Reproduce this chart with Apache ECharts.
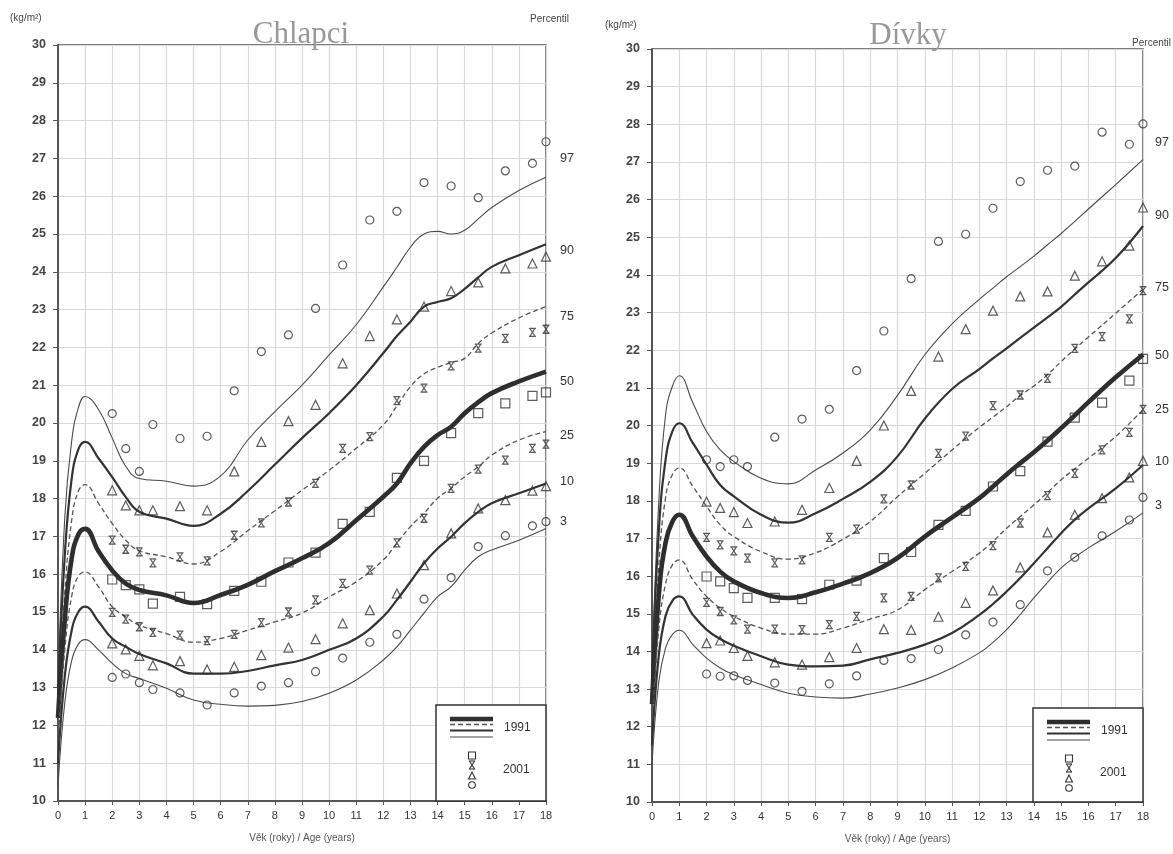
<!DOCTYPE html>
<html><head><meta charset="utf-8">
<script src="https://cdn.jsdelivr.net/npm/echarts/dist/echarts.min.js"></script>
<style>html,body{margin:0;padding:0;background:#fff}#c{width:1173px;height:854px}</style>
</head><body><div id="c"></div>
<script>
// ---- data (BMI percentiles, kg/m2) ----
const ages = [0, 0.25, 0.5, 0.75, 1, 1.5, 2, 2.5, 3, 4, 5, 6, 7, 8, 9, 10, 11, 12, 12.5, 13, 13.5, 14, 14.5, 15, 15.5, 16, 17, 18];
const percentiles = ['97', '90', '75', '50', '25', '10', '3'];

// boys 1991 reference curves
const boys97 = [13.0, 17.5, 19.5, 20.4, 20.7, 20.35, 19.6, 18.85, 18.53, 18.46, 18.33, 18.6, 19.55, 20.3, 21.0, 21.8, 22.6, 23.6, 24.12, 24.65, 25.0, 25.07, 25.0, 25.1, 25.4, 25.7, 26.15, 26.5];
const boys90 = [12.8, 16.5, 18.5, 19.3, 19.5, 19.06, 18.57, 18.04, 17.65, 17.47, 17.28, 17.6, 18.2, 18.9, 19.6, 20.26, 21.0, 21.85, 22.3, 22.68, 23.08, 23.2, 23.3, 23.55, 23.85, 24.13, 24.44, 24.73];
const boys75 = [12.5, 15.5, 17.4, 18.2, 18.37, 17.87, 17.34, 16.9, 16.62, 16.46, 16.27, 16.6, 17.15, 17.68, 18.22, 18.75, 19.33, 19.95, 20.45, 20.96, 21.3, 21.47, 21.6, 21.71, 22.1, 22.38, 22.78, 23.08];
const boys50 = [12.2, 14.8, 16.4, 17.05, 17.2, 16.6, 16.1, 15.75, 15.58, 15.44, 15.24, 15.45, 15.72, 16.08, 16.42, 16.82, 17.43, 18.05, 18.4, 18.93, 19.37, 19.68, 19.9, 20.26, 20.55, 20.79, 21.1, 21.36];
const boys25 = [11.6, 14.0, 15.4, 15.95, 16.06, 15.66, 15.14, 14.87, 14.65, 14.43, 14.2, 14.3, 14.52, 14.74, 14.97, 15.4, 15.8, 16.38, 16.82, 17.26, 17.61, 18.01, 18.27, 18.58, 18.84, 19.15, 19.55, 19.77];
const boys10 = [11.0, 13.3, 14.5, 15.0, 15.14, 14.74, 14.3, 14.08, 13.89, 13.64, 13.37, 13.37, 13.44, 13.59, 13.73, 14.0, 14.3, 14.88, 15.32, 15.8, 16.29, 16.68, 16.99, 17.35, 17.65, 17.88, 18.14, 18.4];
const boys3  = [10.4, 12.6, 13.7, 14.15, 14.27, 13.99, 13.64, 13.37, 13.24, 12.98, 12.67, 12.56, 12.51, 12.53, 12.63, 12.85, 13.2, 13.73, 14.08, 14.52, 14.97, 15.4, 15.67, 16.11, 16.46, 16.64, 16.9, 17.21];

// girls 1991 reference curves
const girls97 = [13.4, 18.0, 20.3, 21.05, 21.32, 20.6, 19.84, 19.35, 19.04, 18.6, 18.45, 18.82, 19.27, 19.88, 20.8, 21.88, 22.7, 23.35, 23.65, 23.95, 24.22, 24.5, 24.8, 25.1, 25.42, 25.75, 26.4, 27.06];
const girls90 = [13.2, 17.2, 19.1, 19.85, 20.06, 19.53, 18.96, 18.42, 18.12, 17.63, 17.42, 17.67, 18.05, 18.5, 19.18, 20.18, 20.97, 21.5, 21.78, 22.05, 22.33, 22.6, 22.87, 23.15, 23.48, 23.8, 24.45, 25.3];
const girls75 = [12.9, 16.3, 18.1, 18.7, 18.87, 18.38, 17.85, 17.36, 17.05, 16.65, 16.45, 16.62, 16.98, 17.45, 18.11, 18.73, 19.35, 19.95, 20.22, 20.5, 20.8, 21.05, 21.35, 21.7, 22.03, 22.35, 22.98, 23.62];
const girls50 = [12.6, 15.5, 16.9, 17.45, 17.63, 17.05, 16.52, 16.12, 15.86, 15.55, 15.42, 15.57, 15.8, 16.08, 16.48, 17.05, 17.56, 18.07, 18.38, 18.7, 19.0, 19.29, 19.6, 19.93, 20.27, 20.62, 21.28, 21.88];
const girls25 = [12.0, 14.6, 15.8, 16.3, 16.43, 15.9, 15.46, 15.15, 14.93, 14.62, 14.46, 14.46, 14.62, 14.86, 15.1, 15.64, 16.12, 16.61, 16.92, 17.27, 17.58, 17.89, 18.22, 18.56, 18.85, 19.13, 19.71, 20.42];
const girls10 = [11.5, 13.9, 14.95, 15.35, 15.46, 14.97, 14.58, 14.33, 14.15, 13.87, 13.65, 13.6, 13.62, 13.79, 13.96, 14.18, 14.49, 14.97, 15.26, 15.59, 15.95, 16.34, 16.74, 17.14, 17.5, 17.8, 18.33, 18.95];
const girls3  = [11.0, 13.2, 14.1, 14.45, 14.56, 14.18, 13.82, 13.56, 13.38, 13.12, 12.89, 12.79, 12.76, 12.87, 13.03, 13.25, 13.56, 13.96, 14.24, 14.58, 14.98, 15.42, 15.83, 16.22, 16.5, 16.75, 17.19, 17.68];

// 2001 survey points
const mAges = [2, 2.5, 3, 3.5, 4.5, 5.5, 6.5, 7.5, 8.5, 9.5, 10.5, 11.5, 12.5, 13.5, 14.5, 15.5, 16.5, 17.5, 18];
const boys01_97 = [20.25, 19.32, 18.72, 19.96, 19.59, 19.65, 20.85, 21.89, 22.33, 23.03, 24.18, 25.37, 25.6, 26.36, 26.27, 25.96, 26.67, 26.87, 27.44];
const boys01_90 = [18.22, 17.82, 17.69, 17.69, 17.8, 17.69, 18.72, 19.5, 20.05, 20.48, 21.58, 22.3, 22.74, 23.08, 23.49, 23.72, 24.09, 24.22, 24.4];
const boys01_75 = [16.9, 16.66, 16.59, 16.3, 16.46, 16.35, 17.03, 17.36, 17.91, 18.4, 19.33, 19.64, 20.59, 20.92, 21.51, 21.98, 22.24, 22.4, 22.48];
const boys01_50 = [15.86, 15.71, 15.6, 15.22, 15.4, 15.21, 15.56, 15.8, 16.31, 16.57, 17.33, 17.65, 18.55, 19.0, 19.73, 20.26, 20.52, 20.72, 20.81];
const boys01_25 = [14.99, 14.81, 14.61, 14.46, 14.39, 14.24, 14.41, 14.72, 15.0, 15.32, 15.76, 16.11, 16.83, 17.48, 18.27, 18.78, 19.02, 19.33, 19.44];
const boys01_10 = [14.17, 14.01, 13.84, 13.59, 13.7, 13.48, 13.55, 13.86, 14.06, 14.28, 14.7, 15.05, 15.49, 16.24, 17.08, 17.74, 17.96, 18.21, 18.33];
const boys01_3  = [13.27, 13.36, 13.13, 12.95, 12.86, 12.54, 12.86, 13.04, 13.13, 13.42, 13.78, 14.2, 14.41, 15.34, 15.91, 16.73, 17.02, 17.28, 17.39];

const girls01_97 = [19.09, 18.91, 19.09, 18.91, 19.69, 20.17, 20.43, 21.46, 22.51, 23.9, 24.89, 25.08, 25.77, 26.48, 26.78, 26.89, 27.79, 27.47, 28.01];
const girls01_90 = [17.98, 17.81, 17.7, 17.41, 17.45, 17.76, 18.34, 19.06, 20.0, 20.92, 21.83, 22.56, 23.05, 23.43, 23.56, 23.98, 24.36, 24.78, 25.79];
const girls01_75 = [17.03, 16.83, 16.67, 16.48, 16.35, 16.43, 17.03, 17.25, 18.05, 18.42, 19.26, 19.72, 20.53, 20.81, 21.25, 22.05, 22.36, 22.83, 23.58];
const girls01_50 = [15.99, 15.86, 15.68, 15.42, 15.42, 15.39, 15.77, 15.88, 16.48, 16.64, 17.36, 17.73, 18.38, 18.79, 19.57, 20.21, 20.61, 21.19, 21.77];
const girls01_25 = [15.3, 15.06, 14.84, 14.59, 14.59, 14.58, 14.71, 14.93, 15.42, 15.46, 15.95, 16.26, 16.81, 17.41, 18.14, 18.73, 19.35, 19.82, 20.43];
const girls01_10 = [14.22, 14.29, 14.09, 13.88, 13.71, 13.65, 13.85, 14.09, 14.59, 14.57, 14.92, 15.29, 15.62, 16.23, 17.16, 17.63, 18.07, 18.62, 19.06];
const girls01_3  = [13.4, 13.34, 13.35, 13.23, 13.16, 12.94, 13.14, 13.35, 13.76, 13.81, 14.05, 14.44, 14.78, 15.24, 16.14, 16.5, 17.07, 17.49, 18.09];

const titles = ['Chlapci', 'Dívky'];
const legendYears = ['1991', '2001'];
const xName = 'Věk (roky) / Age (years)';

// ---- styles ----
const FONT = '"Liberation Sans", Arial, sans-serif';
const INK = '#333';
const lineStyles = {
  thin:   { color: '#4a4a4a', width: 1.1 },
  medium: { color: '#333', width: 2.2 },
  dashed: { color: '#555', width: 1.3, type: [5, 3] },
  thick:  { color: '#2e2e2e', width: 4.6 }
};
const styleOf = ['thin', 'medium', 'dashed', 'thick', 'dashed', 'medium', 'thin'];
const XPATH = 'path://M0,0L8,0M0,10L8,10M1,0L7,10M7,0L1,10';
const symOf = [
  { symbol: 'circle', size: 8 },
  { symbol: 'triangle', size: 9 },
  { symbol: XPATH, size: [7, 8] },
  { symbol: 'rect', size: 9 },
  { symbol: XPATH, size: [7, 8] },
  { symbol: 'triangle', size: 9 },
  { symbol: 'circle', size: 8 }
];

const curves = [
  [boys97, boys90, boys75, boys50, boys25, boys10, boys3],
  [girls97, girls90, girls75, girls50, girls25, girls10, girls3]
];
const points = [
  [boys01_97, boys01_90, boys01_75, boys01_50, boys01_25, boys01_10, boys01_3],
  [girls01_97, girls01_90, girls01_75, girls01_50, girls01_25, girls01_10, girls01_3]
];
const labelDy = [
  [-19, 6, 10, 10, 4, -2, -7],
  [-17, -10, -2, 1, 0, -3, -7]
];
const labelDx = [6, 4];

const series = [];
for (let g = 0; g < 2; g++) {
  for (let p = 0; p < 7; p++) {
    series.push({
      type: 'line', xAxisIndex: g, yAxisIndex: g,
      data: ages.map((a, i) => [a, curves[g][p][i]]),
      showSymbol: false, smooth: 0.45, silent: true,
      lineStyle: lineStyles[styleOf[p]], z: 3,
      endLabel: { show: true, formatter: percentiles[p], color: INK, fontSize: 12.5,
        fontFamily: FONT, offset: [labelDx[g], labelDy[g][p]] }
    });
    series.push({
      type: 'scatter', xAxisIndex: g, yAxisIndex: g,
      data: mAges.map((a, i) => [a, points[g][p][i]]),
      symbol: symOf[p].symbol, symbolSize: symOf[p].size, silent: true, z: 4,
      itemStyle: { color: 'rgba(0,0,0,0)', borderColor: '#333', borderWidth: 1.2 }
    });
  }
}

function axisX(g) {
  return {
    type: 'value', gridIndex: g, min: 0, max: 18, interval: 1,
    name: xName, nameLocation: 'middle', nameGap: 32,
    nameTextStyle: { fontSize: 10, color: '#555', fontFamily: FONT },
    axisLine: { show: true, lineStyle: { color: '#555', width: 2 } },
    axisTick: { show: true, length: 4, lineStyle: { color: '#555' } },
    axisLabel: { fontSize: 11, color: INK, fontFamily: FONT, margin: 9 },
    splitLine: { show: true, lineStyle: { color: '#d9d9d9', width: 1.2 } }
  };
}
function axisY(g) {
  return {
    type: 'value', gridIndex: g, min: 10, max: 30, interval: 1,
    axisLine: { show: true, lineStyle: { color: '#555', width: 2 } },
    axisTick: { show: true, length: 5, lineStyle: { color: '#555' } },
    axisLabel: { fontSize: 12.5, fontWeight: 'bold', color: '#444', fontFamily: FONT, margin: 12 },
    splitLine: { show: true, lineStyle: { color: '#d9d9d9', width: 1.2 } }
  };
}

function legendBox(x0, y0, w, h) {
  const els = [];
  els.push({ type: 'rect', shape: { x: x0, y: y0, width: w, height: h },
    style: { fill: '#fff', stroke: '#333', lineWidth: 1.5 }, z: 100 });
  const lx1 = x0 + 14, lx2 = x0 + 57;
  const rows = [[14, lineStyles.thick], [19.5, lineStyles.dashed], [25.5, lineStyles.medium], [32, lineStyles.thin]];
  rows.forEach(([dy, ls]) => {
    els.push({ type: 'line', shape: { x1: lx1, y1: y0 + dy, x2: lx2, y2: y0 + dy },
      style: { stroke: ls.color, lineWidth: ls.width, lineDash: ls.type ? ls.type : null }, z: 101 });
  });
  els.push({ type: 'text', x: x0 + 68, y: y0 + 23, z: 101,
    style: { text: legendYears[0], font: '12px ' + FONT, fill: INK, textVerticalAlign: 'middle', verticalAlign: 'middle' } });
  els.push({ type: 'text', x: x0 + 67, y: y0 + 65, z: 101,
    style: { text: legendYears[1], font: '12px ' + FONT, fill: INK, textVerticalAlign: 'middle', verticalAlign: 'middle' } });
  const mx = x0 + 36;
  els.push({ type: 'rect', shape: { x: mx - 3.5, y: y0 + 47, width: 7, height: 7 },
    style: { fill: 'none', stroke: INK, lineWidth: 1.1 }, z: 101 });
  els.push({ type: 'polyline', shape: { points: [[mx - 3, y0 + 56], [mx + 3, y0 + 56]] }, style: { stroke: INK, lineWidth: 1.1 }, z: 101 });
  els.push({ type: 'polyline', shape: { points: [[mx - 3, y0 + 64], [mx + 3, y0 + 64]] }, style: { stroke: INK, lineWidth: 1.1 }, z: 101 });
  els.push({ type: 'polyline', shape: { points: [[mx - 2.5, y0 + 56], [mx + 2.5, y0 + 64]] }, style: { stroke: INK, lineWidth: 1.1 }, z: 101 });
  els.push({ type: 'polyline', shape: { points: [[mx + 2.5, y0 + 56], [mx - 2.5, y0 + 64]] }, style: { stroke: INK, lineWidth: 1.1 }, z: 101 });
  els.push({ type: 'polygon', shape: { points: [[mx, y0 + 67], [mx + 3.5, y0 + 74], [mx - 3.5, y0 + 74]] },
    style: { fill: 'none', stroke: INK, lineWidth: 1.1 }, z: 101 });
  els.push({ type: 'circle', shape: { cx: mx, cy: y0 + 80, r: 3.3 },
    style: { fill: 'none', stroke: INK, lineWidth: 1.1 }, z: 101 });
  return els;
}

function txt(x, y, text, font, fill, align) {
  return { type: 'text', x: x, y: y, z: 50,
    style: { text: text, font: font, fill: fill, textAlign: align || 'left', align: align || 'left',
      textVerticalAlign: 'middle', verticalAlign: 'middle' } };
}

const graphics = [].concat(
  legendBox(436, 705, 110, 96),
  legendBox(1033, 708, 110, 94),
  [
    txt(301, 35, titles[0], '31px "Liberation Serif", "Times New Roman", serif', '#999', 'center'),
    txt(908, 36, titles[1], '31px "Liberation Serif", "Times New Roman", serif', '#999', 'center'),
    txt(10, 18, '(kg/m²)', '10px ' + FONT, '#444'),
    txt(605, 25, '(kg/m²)', '10px ' + FONT, '#444'),
    txt(569, 19, 'Percentil', '10px ' + FONT, '#444', 'right'),
    txt(1171, 43, 'Percentil', '10px ' + FONT, '#444', 'right')
  ]
);

const chart = echarts.init(document.getElementById('c'), null, { renderer: 'canvas' });
chart.setOption({
  animation: false,
  backgroundColor: '#fff',
  textStyle: { fontFamily: FONT },
  grid: [
    { left: 58, top: 45, width: 488, height: 756, show: true, borderColor: '#555', borderWidth: 1.5, backgroundColor: 'rgba(0,0,0,0)', outerBoundsMode: 'none', containLabel: false },
    { left: 652, top: 49, width: 491, height: 753, show: true, borderColor: '#555', borderWidth: 1.5, backgroundColor: 'rgba(0,0,0,0)', outerBoundsMode: 'none', containLabel: false }
  ],
  xAxis: [axisX(0), axisX(1)],
  yAxis: [axisY(0), axisY(1)],
  series: series,
  graphic: { elements: graphics }
});
</script></body></html>
